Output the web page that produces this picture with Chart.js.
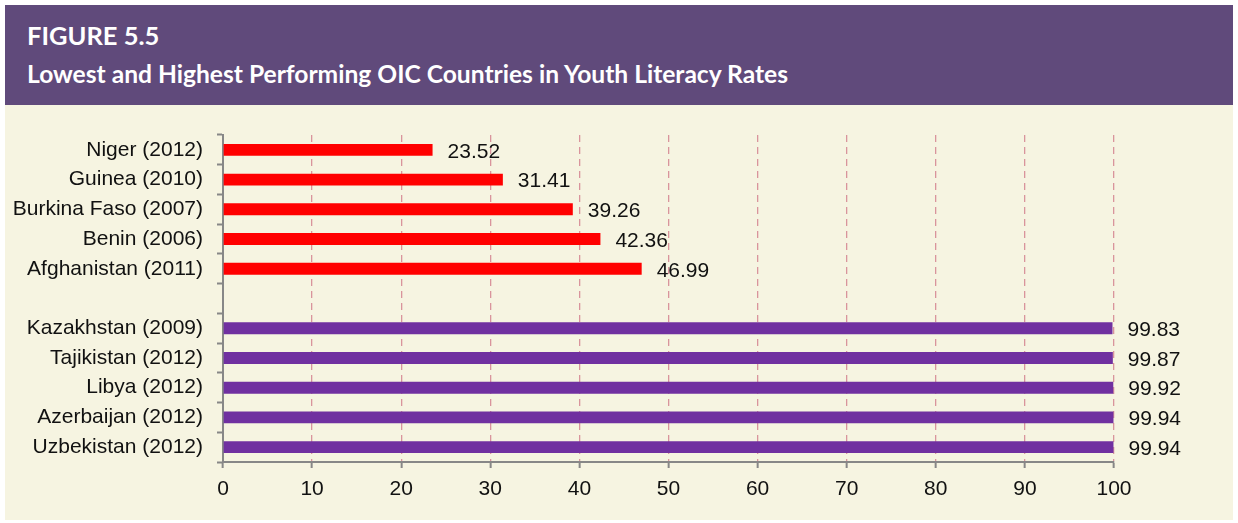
<!DOCTYPE html>
<html>
<head>
<meta charset="utf-8">
<script src="https://cdn.jsdelivr.net/npm/chart.js@4/dist/chart.umd.min.js"></script>
<style>
  body { margin: 0; background: #fff; width: 1238px; height: 523px; position: relative; overflow: hidden; }
  #head { position: absolute; left: 5px; top: 5px; width: 1228px; height: 100px; background: #604a7b; color: #fff; font-family: Lato, "Open Sans", sans-serif; font-weight: bold; }
  #head div { position: absolute; left: 22px; white-space: nowrap; line-height: 1.2; }
  #head .fig { top: 15px; font-size: 25.5px; }
  #head .sub { top: 54px; font-size: 24.6px; }
  #panel { position: absolute; left: 5px; top: 105px; width: 1228px; height: 415px; background: #f6f4e1; }
  canvas { position: absolute; left: 0; top: 0; }
</style>
</head>
<body>
<div id="head">
  <div class="fig">FIGURE 5.5</div>
  <div class="sub">Lowest and Highest Performing OIC Countries in Youth Literacy Rates</div>
</div>
<div id="panel"><canvas id="myChart1" width="1228" height="415"></canvas></div>
<script>
// countries, blank row splits lowest and highest groups
const countries = ['Niger (2012)', 'Guinea (2010)', 'Burkina Faso (2007)', 'Benin (2006)', 'Afghanistan (2011)', '',
  'Kazakhstan (2009)', 'Tajikistan (2012)', 'Libya (2012)', 'Azerbaijan (2012)', 'Uzbekistan (2012)'];
const literacy = [23.52, 31.41, 39.26, 42.36, 46.99, null, 99.83, 99.87, 99.92, 99.94, 99.94];
const barColors = ['#ff0000', '#ff0000', '#ff0000', '#ff0000', '#ff0000', '#ffffff',
  '#7030a0', '#7030a0', '#7030a0', '#7030a0', '#7030a0'];
const xTicks = [0, 10, 20, 30, 40, 50, 60, 70, 80, 90, 100];

const axisGray = '#878787';
const font = { family: '"Liberation Sans", Arial, sans-serif', size: 21 };

const valueLabels = {
  id: 'valueLabels',
  afterDatasetsDraw(chart) {
    const ctx = chart.ctx;
    const meta = chart.getDatasetMeta(0);
    ctx.save();
    ctx.font = font.size + 'px ' + font.family;
    ctx.fillStyle = '#111';
    ctx.textAlign = 'left';
    ctx.textBaseline = 'middle';
    meta.data.forEach(function(bar, i) {
      if (literacy[i] === null) return;
      ctx.fillText(literacy[i].toFixed(2), bar.x + 15, bar.y + 2);
    });
    ctx.restore();
  }
};

new Chart(document.getElementById('myChart1'), {
  type: 'bar',
  data: {
    labels: countries,
    datasets: [{
      data: literacy,
      backgroundColor: barColors,
      barPercentage: 0.4,
      categoryPercentage: 1
    }]
  },
  options: {
    indexAxis: 'y',
    responsive: false,
    animation: false,
    devicePixelRatio: 1,
    layout: { padding: { left: 0, right: 119, top: 30, bottom: 0 } },
    plugins: { legend: { display: false }, tooltip: { enabled: false } },
    scales: {
      x: {
        min: 0,
        max: 100,
        afterFit(s) { s.height = 58; },
        afterBuildTicks(s) { s.ticks = xTicks.map(v => ({ value: v })); },
        ticks: { font: font, color: '#111', padding: 9 },
        grid: {
          color: ctx => ctx.tick && ctx.tick.value === 0 ? 'rgba(0,0,0,0)' : '#d9949c',
          tickColor: axisGray,
          tickLength: 6,
          lineWidth: 1.3,
          tickWidth: 2
        },
        border: { color: axisGray, width: 2, dash: [7, 5] }
      },
      y: {
        afterFit(s) { s.width = 218; },
        ticks: { font: font, color: '#111', padding: 14 },
        grid: { drawOnChartArea: false, tickColor: axisGray, tickLength: 6, tickWidth: 2 },
        border: { color: axisGray, width: 2 }
      }
    }
  },
  plugins: [valueLabels]
});
</script>
</body>
</html>
